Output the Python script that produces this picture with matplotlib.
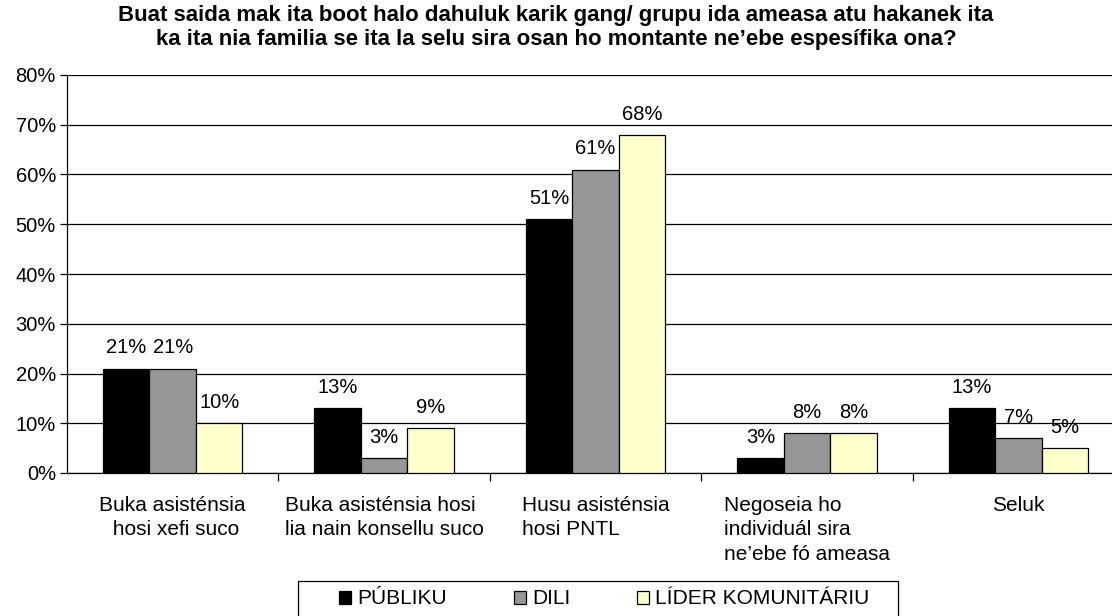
import numpy as np
import matplotlib.pyplot as plt
from matplotlib.patches import Rectangle
from matplotlib.ticker import FixedLocator, PercentFormatter

plt.rcParams['font.family'] = ['Liberation Sans', 'DejaVu Sans']

#%% Data
categories = ["Buka asisténsia\n hosi xefi suco",
              "Buka asisténsia hosi\nlia nain konsellu suco",
              "Husu asisténsia\nhosi PNTL",
              "Negoseia ho\nindividuál sira\nne\u2019ebe fó ameasa",
              "Seluk"]
series = ["PÚBLIKU", "DILI", "LÍDER KOMUNITÁRIU"]
publiku = [21, 13, 51, 3, 13]
dili = [21, 3, 61, 8, 7]
lider = [10, 9, 68, 8, 5]
colors = ["#000000", "#969696", "#FFFFCC"]
title = ("Buat saida mak ita boot halo dahuluk karik gang/ grupu ida ameasa atu hakanek ita\n"
         "ka ita nia familia se ita la selu sira osan ho montante ne\u2019ebe espesífika ona?")

#%% Plot
fig = plt.figure(figsize=(11.12, 6.16), dpi=100)
ax = fig.add_axes([67/1112, 1 - 473/616, 1 - 67/1112, (473 - 75)/616])

x = np.arange(len(categories))
w = 0.22
for i, (vals, name) in enumerate(zip([publiku, dili, lider], series)):
    pos = x + (i - 1) * w
    ax.bar(pos, vals, width=w, color=colors[i], edgecolor='black', linewidth=0.9,
           label=name, zorder=3)
    for px, v in zip(pos, vals):
        ax.annotate(f"{v}%", (px, v), xytext=(0, 8), textcoords='offset points',
                    ha='center', va='bottom', fontsize=14.5, zorder=4)

ax.set_ylim(0, 80)
ax.set_xlim(-0.5, 4.5 - 12/211)
ax.yaxis.set_major_locator(FixedLocator(np.arange(0, 81, 10)))
ax.yaxis.set_major_formatter(PercentFormatter(decimals=0))
ax.grid(axis='y', color='black', linewidth=0.9, zorder=0)
ax.tick_params(axis='y', labelsize=14.5, length=5, width=0.9, pad=3)

ax.xaxis.set_major_locator(FixedLocator(x[:-1] + 0.5))
ax.set_xticklabels([])
ax.tick_params(axis='x', length=6, width=0.9, direction='out')
for xi, lab in zip(x, categories):
    ma = 'center' if xi == 0 else 'left'
    ax.text(xi, -4.6, lab, ha='center', va='top', multialignment=ma,
            fontsize=15, linespacing=1.37)

for s in ['top', 'right']:
    ax.spines[s].set_visible(False)
for s in ['left', 'bottom']:
    ax.spines[s].set_color('black')
    ax.spines[s].set_linewidth(0.9)

fig.text(0.5, 1 - 5/616, title, ha='center', va='top', fontsize=16,
         fontweight='bold', linespacing=1.21)

# legend box drawn separately so the padding matches
fig.patches.append(Rectangle((298/1112, -0.02), (898 - 298)/1112, (616 - 581)/616 + 0.02,
                             transform=fig.transFigure, fill=False, ec='black', lw=0.9))
leg = fig.legend(loc='center left', bbox_to_anchor=(339/1112, 1 - 599/616), ncol=3,
                 fontsize=15, frameon=False, borderpad=0, borderaxespad=0,
                 handlelength=0.58, handleheight=0.58, handletextpad=0.3,
                 columnspacing=3.2)

plt.savefig("out.png", dpi=100)
